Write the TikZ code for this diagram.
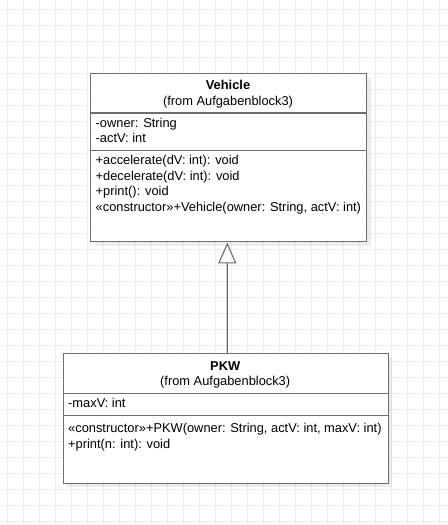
\documentclass[tikz,border=0pt]{standalone}
\usepackage{fontspec}
\setmainfont{Liberation Sans}
\usetikzlibrary{arrows.meta,shadows}
\definecolor{gridc}{HTML}{EDEDED}
\definecolor{edgec}{HTML}{6E6E6E}
\tikzset{
  gridline/.style={draw=gridc, line width=0.9bp},
  classbox/.style={draw=edgec, fill=white, line width=1.4bp, rectangle, inner sep=0pt, anchor=north west,
    drop shadow={shadow xshift=4bp, shadow yshift=-4bp, fill=black, opacity=0.07}},
  sepline/.style={draw=edgec, line width=1.4bp},
  member/.style={anchor=base west, inner sep=0pt, font=\fontsize{12.85bp}{15.5bp}\selectfont},
  title/.style={anchor=base, inner sep=0pt, font=\fontsize{12.85bp}{15.5bp}\selectfont\bfseries},
  subtitle/.style={anchor=base, inner sep=0pt, font=\fontsize{12.85bp}{15.5bp}\selectfont},
  inherit/.style={draw=edgec, line width=1.3bp, -{Triangle[open, length=21bp, width=18bp, line width=1.1bp]}}
}
\begin{document}
\begin{tikzpicture}[x=1bp,y=-1bp]
\useasboundingbox (0,0) rectangle (448,525);
\fill[white] (0,0) rectangle (448,525);
% grid
\foreach \gx in {7,23,...,448} {\draw[gridline] (\gx,0) -- (\gx,525);}
\foreach \gy in {9,25,...,525} {\draw[gridline] (0,\gy) -- (448,\gy);}

% Vehicle
\node[classbox, minimum width=276bp, minimum height=168bp] (vehicle) at (90,73) {};
\draw[sepline] (vehicle.west |- 0,113) -- (vehicle.east |- 0,113);
\draw[sepline] (vehicle.west |- 0,150.5) -- (vehicle.east |- 0,150.5);
\node[title] (vname) at (228,89.3) {Vehicle};
\node[subtitle] (vfrom) at (228,105.6) {(from Aufgabenblock3)};
\node[member] (va1) at (95.5,127.3) {-owner: String};
\node[member] (va2) at (95.5,143.0) {-actV: int};
\node[member] (vm1) at (95.5,165.0) {+accelerate(dV: int): void};
\node[member] (vm2) at (95.5,180.5) {+decelerate(dV: int): void};
\node[member] (vm3) at (95.5,196.0) {+print(): void};
\node[member] (vm4) at (95.5,211.5) {«constructor»+Vehicle(owner: String, actV: int)};

% PKW
\node[classbox, minimum width=325bp, minimum height=129.7bp] (pkw) at (62.7,353) {};
\draw[sepline] (pkw.west |- 0,393.3) -- (pkw.east |- 0,393.3);
\draw[sepline] (pkw.west |- 0,415.7) -- (pkw.east |- 0,415.7);
\node[title] (pname) at (225.2,370) {PKW};
\node[subtitle] (pfrom) at (225.2,385.5) {(from Aufgabenblock3)};
\node[member] (pa1) at (68,407.7) {-maxV: int};
\node[member] (pm1) at (68,432.7) {«constructor»+PKW(owner: String, actV: int, maxV: int)};
\node[member] (pm2) at (68,448.2) {+print(n: int): void};

% generalization
\draw[inherit] ([xshift=1.4bp]pkw.north) -- ([xshift=-1.4bp]vehicle.south);
\end{tikzpicture}
\end{document}
